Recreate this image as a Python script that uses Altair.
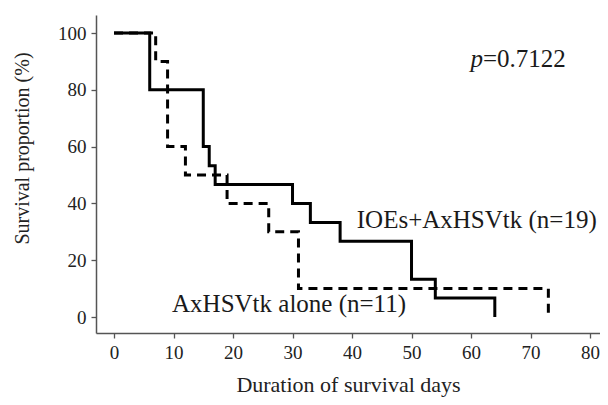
import altair as alt
import pandas as pd

# IOEs+AxHSVtk (n=19), solid
ioe_days = [0, 6, 15, 16, 17, 30, 33, 38, 50, 54, 64]
ioe_surv = [100, 80, 60, 53.3, 46.7, 40, 33.3, 26.7, 13.3, 6.7, 0]

# AxHSVtk alone (n=11), dashed
ax_days = [0, 7, 9, 12, 19, 26, 31, 73]
ax_surv = [100, 90, 60, 50, 40, 30, 10, 0]

x_ticks = list(range(0, 81, 5))
y_ticks = list(range(0, 101, 10))

ann_text = ["IOEs+AxHSVtk (n=19)", "AxHSVtk alone (n=11)"]
ann_x = [40.8, 9.75]
ann_y = [31.3, 1.8]

FONT = "Liberation Serif"

ioe = pd.DataFrame({"day": ioe_days, "surv": ioe_surv})
ax = pd.DataFrame({"day": ax_days, "surv": ax_surv})
ann = pd.DataFrame({"text": ann_text, "day": ann_x, "surv": ann_y})

xscale = alt.Scale(domain=[-3.03, 81.68], nice=False, zero=False)
yscale = alt.Scale(domain=[-5.63, 106.34], nice=False, zero=False)

xaxis = alt.Axis(values=x_ticks, labelExpr="datum.value % 10 == 0 ? datum.label : ''",
                 title="Duration of survival days", titleFontSize=22,
                 titleY=51, titleBaseline="middle", labelPadding=5)
yaxis = alt.Axis(values=y_ticks, labelExpr="datum.value % 20 == 0 ? datum.label : ''",
                 title="Survival proportion (%)", titleFontSize=20,
                 titleX=-74, titleY=133, titleAngle=270, titleBaseline="middle",
                 titleAlign="center", labelPadding=5)

x = alt.X("day:Q", scale=xscale, axis=xaxis)
y = alt.Y("surv:Q", scale=yscale, axis=yaxis)

solid = alt.Chart(ioe).mark_line(interpolate="step-after", color="black",
                                 strokeWidth=3).encode(x=x, y=y)
dashed = alt.Chart(ax).mark_line(interpolate="step-after", color="black",
                                 strokeWidth=3, strokeDash=[9, 6]).encode(x=x, y=y)

labels = alt.Chart(ann).mark_text(font=FONT, fontSize=25, align="left",
                                  baseline="alphabetic", color="#1a1a1a").encode(
    x="day:Q", y="surv:Q", text="text:N")

pdf = pd.DataFrame({"day": [62.0], "surv": [88]})
p1 = alt.Chart(pdf).mark_text(font=FONT, fontSize=25, fontStyle="italic", align="right",
                              baseline="alphabetic", color="#1a1a1a", text="p").encode(
    x="day:Q", y="surv:Q")
p2 = alt.Chart(pdf).mark_text(font=FONT, fontSize=25, align="left",
                              baseline="alphabetic", color="#1a1a1a", text="=0.7122").encode(
    x="day:Q", y="surv:Q")

chart = alt.layer(solid, dashed, labels, p1, p2).properties(
    width=504, height=318,
    autosize=alt.AutoSizeParams(type="none"),
    padding={"left": 88, "top": 7, "right": 0, "bottom": 64},
).configure_axis(
    grid=False, domainColor="#555", domainWidth=1.5, tickColor="#555", tickWidth=1.3,
    tickSize=5, labelFont=FONT, labelFontSize=19, labelColor="#222",
    titleFont=FONT, titleFontWeight="normal", titleColor="#222",
).configure_view(stroke=None)

chart.save("out.html", embed_options={"renderer": "svg", "actions": False})
